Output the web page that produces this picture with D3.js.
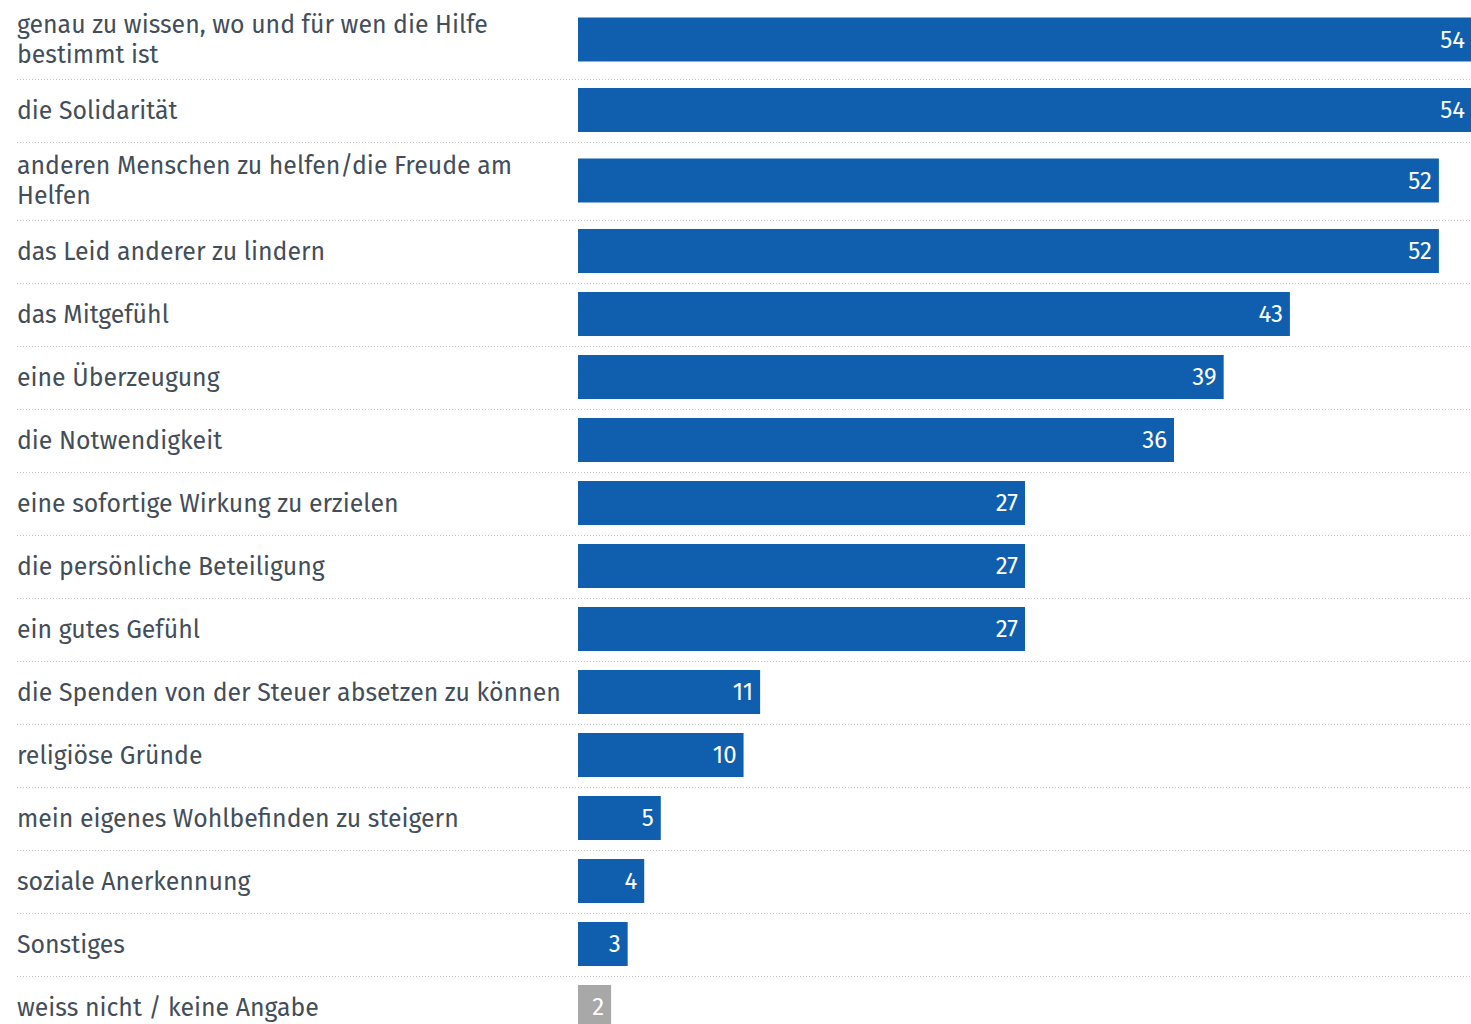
<!DOCTYPE html>
<html><head><meta charset="utf-8">
<script src="https://cdn.jsdelivr.net/npm/d3@7"></script>
<style>html,body{margin:0;padding:0;background:#fff;overflow:hidden}</style>
</head><body>
<svg id="c" width="1471" height="1024"></svg>
<script>
const categories = [
  ["genau zu wissen, wo und für wen die Hilfe", "bestimmt ist"],
  ["die Solidarität"],
  ["anderen Menschen zu helfen/die Freude am", "Helfen"],
  ["das Leid anderer zu lindern"],
  ["das Mitgefühl"],
  ["eine Überzeugung"],
  ["die Notwendigkeit"],
  ["eine sofortige Wirkung zu erzielen"],
  ["die persönliche Beteiligung"],
  ["ein gutes Gefühl"],
  ["die Spenden von der Steuer absetzen zu können"],
  ["religiöse Gründe"],
  ["mein eigenes Wohlbefinden zu steigern"],
  ["soziale Anerkennung"],
  ["Sonstiges"],
  ["weiss nicht / keine Angabe"]
];
const values = [54, 54, 52, 52, 43, 39, 36, 27, 27, 27, 11, 10, 5, 4, 3, 2];
const isOther = [false,false,false,false,false,false,false,false,false,false,false,false,false,false,false,true];

const keys = categories.map(c => c.join(" "));
const rowH = categories.map(c => c.length > 1 ? 78 : 63);
const tops = [0.5];
rowH.forEach((h,i) => tops.push(tops[i] + h));

const svg = d3.select("#c");
const FONT = "'Fira Sans','Noto Sans',sans-serif";
const x = d3.scaleLinear().domain([0, 54]).range([578, 1472]);
const yTop = d3.scaleOrdinal().domain(keys).range(tops.slice(0, keys.length));
const yH = d3.scaleOrdinal().domain(keys).range(rowH);
const barH = 44;

const rows = svg.selectAll("g.row").data(keys).join("g").attr("class","row");

rows.append("line")
  .attr("x1", 17).attr("x2", 1471)
  .attr("y1", d => Math.round(yTop(d) + yH(d)) + 0.5)
  .attr("y2", d => Math.round(yTop(d) + yH(d)) + 0.5)
  .attr("stroke", "#c4c9ce").attr("stroke-width", 1)
  .attr("stroke-dasharray", "1,2");

rows.append("rect")
  .attr("x", x(0))
  .attr("y", d => yTop(d) + yH(d)/2 - barH/2)
  .attr("width", (d,i) => x(values[i]) - x(0))
  .attr("height", barH)
  .attr("fill", (d,i) => isOther[i] ? "#a8a8a8" : "#0f5fae");

rows.append("text")
  .attr("x", (d,i) => x(values[i]) - 7)
  .attr("y", d => yTop(d) + yH(d)/2)
  .attr("dy", "0.35em")
  .attr("text-anchor", "end")
  .attr("fill", "#fff")
  .attr("font-family", FONT)
  .attr("font-size", 24)
  .text((d,i) => values[i]);

rows.each(function(d,i){
  const lines = categories[i];
  const cy = yTop(d) + yH(d)/2;
  const t = d3.select(this).append("text")
    .attr("x", 17)
    .attr("fill", "#434e59")
    .attr("font-family", FONT)
    .attr("font-size", 24.85);
  lines.forEach((ln, j) => {
    t.append("tspan")
      .attr("x", 17)
      .attr("y", cy + (j - (lines.length-1)/2) * 30)
      .attr("dy", "0.35em")
      .text(ln);
  });
});
</script>
</body></html>
